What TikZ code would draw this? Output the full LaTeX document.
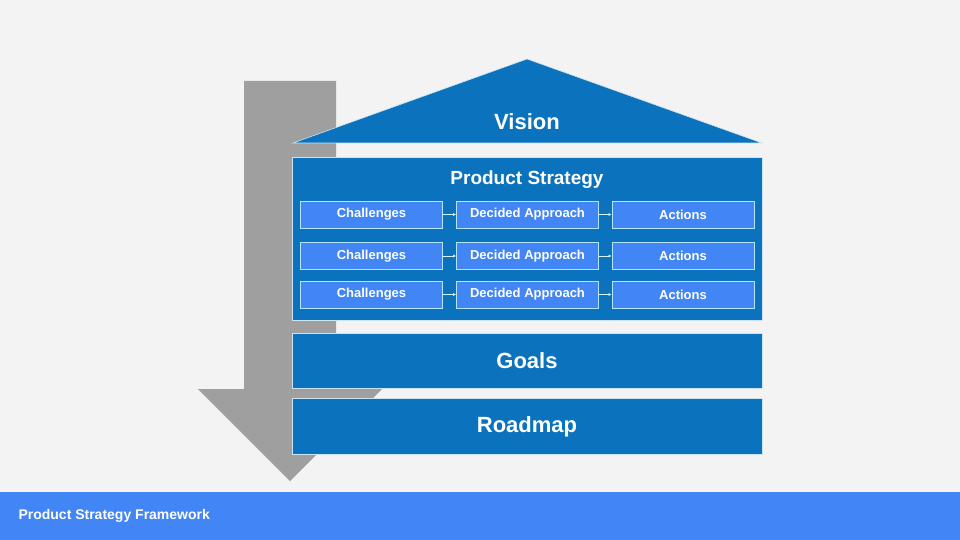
\documentclass[tikz,border=0pt]{standalone}
\usepackage{fontspec}
\setmainfont{Liberation Sans}
\begin{document}
\begin{tikzpicture}[x=1pt,y=-1pt,
  house/.style={fill=hb,draw=white!80!hb,line width=0.6pt},
  sb/.style={fill=lb,draw=white!70!cyan,line width=0.8pt,minimum width=142pt,minimum height=27pt,inner sep=0pt,text=white,font=\bfseries\fontsize{13}{14}\selectfont},
  ar/.style={draw=white!85!cyan,line width=0.6pt,-{Latex[length=3pt,width=3pt]}},
  big/.style={text=white,font=\bfseries\fontsize{22}{24}\selectfont}]
\usetikzlibrary{arrows.meta}
\definecolor{hb}{HTML}{0B72BE}
\definecolor{lb}{HTML}{4285F4}
\definecolor{bg}{HTML}{F3F3F3}
\fill[bg] (0,0) rectangle (960,540);
\useasboundingbox (0,0) rectangle (960,540);
\fill[lb] (0,492) rectangle (960,540);
\node[anchor=west,text=white,font=\bfseries\fontsize{14}{16}\selectfont] (ft) at (15,516) {Product Strategy Framework};
\fill[gray!75] (244,81) -- (336,81) -- (336,389) -- (382,389) -- (290,481) -- (198,389) -- (244,389) -- cycle;
\draw[house] (293,143) -- (527,59) -- (762,143) -- cycle;
\node[big] (vis) at (527,122) {Vision};
\draw[house] (292,157) rectangle (762,320);
\node[text=white,font=\bfseries\fontsize{19}{21}\selectfont] (ps) at (527,180) {Product Strategy};
\draw[house] (292,333) rectangle (762,388);
\node[big] (go) at (527,361) {Goals};
\draw[house] (292,398) rectangle (762,454);
\node[big] (rm) at (527,427) {Roadmap};
\foreach \r/\y in {1/214.5,2/256,3/294.5}{
  \node[sb] (c\r) at (371.5,\y) {Challenges};
  \node[sb] (d\r) at (527.5,\y) {Decided Approach};
  \node[sb] (a\r) at (683,\y) {Actions};
  \draw[ar] (c\r) -- (d\r);
  \draw[ar] (d\r) -- (a\r);
}
\end{tikzpicture}
\end{document}
